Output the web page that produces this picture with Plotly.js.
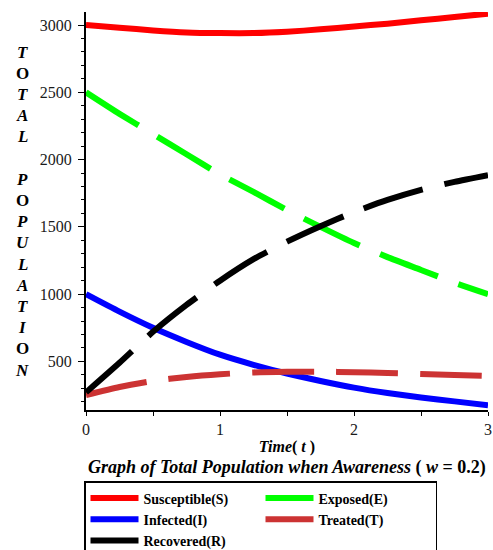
<!DOCTYPE html>
<html>
<head>
<meta charset="utf-8">
<script src="https://cdn.plot.ly/plotly-3.0.1.min.js"></script>
<style>html,body{margin:0;padding:0;background:#fff;overflow:hidden;}#wrap{width:493px;height:550px;overflow:hidden;}#chart{width:493px;height:580px;}</style>
</head>
<body>
<div id="wrap"><div id="chart"></div></div>
<script>
// ---- data ----
var t = [0, 0.25, 0.5, 0.75, 1, 1.25, 1.5, 1.75, 2, 2.25, 2.5, 2.75, 3];
var susceptible = [3000, 2980, 2960, 2945, 2940, 2940, 2950, 2968, 2990, 3010, 3035, 3060, 3085];
var exposed     = [2500, 2340, 2190, 2040, 1890, 1760, 1625, 1500, 1380, 1275, 1180, 1085, 1000];
var infected    = [1000, 870, 750, 645, 550, 475, 410, 355, 305, 265, 232, 203, 175];
var treated     = [250, 310, 355, 385, 405, 418, 423, 424, 420, 414, 407, 400, 393];
var recovered   = [270, 490, 720, 920, 1100, 1260, 1390, 1505, 1610, 1700, 1775, 1835, 1885];
var seriesNames = ["Susceptible(S)", "Exposed(E)", "Infected(I)", "Treated(T)", "Recovered(R)"];
var xTickVals = [0, 1, 2, 3];
var xTickText = ["0", "1", "2", "3"];
var yTickVals = [500, 1000, 1500, 2000, 2500, 3000];
var yTitleLetters = "TOTAL POPULATION".split("");

var serif = "Liberation Serif, Times New Roman, serif";
var W = 493, H = 580;
var M = {l: 86, r: 5, t: 12, b: H - 410};
var plotH = H - M.t - M.b, plotW = W - M.l - M.r;
function px2py(py) { return (H - M.b - py) / plotH; }
function px2px(px) { return (px - M.l) / plotW; }

function mk(name, y, color, dash) {
  return {
    x: t, y: y, name: name, type: "scatter", mode: "lines",
    line: {color: color, width: 6, dash: dash, shape: "spline", smoothing: 0.6},
    hoverinfo: "skip"
  };
}
var longDash = "62px,22px";
var data = [
  mk(seriesNames[0], susceptible, "#ff0000", "solid"),
  mk(seriesNames[1], exposed, "#00ff00", longDash),
  mk(seriesNames[2], infected, "#0000ff", "solid"),
  mk(seriesNames[3], treated, "#cc3333", longDash),
  mk(seriesNames[4], recovered, "#000000", longDash)
];

var annotations = [];
yTitleLetters.forEach(function (ch, i) {
  if (ch === " ") return;
  var txt = ch === "O" ? "<b>" + ch + "</b>" : "<b><i>" + ch + "</i></b>";
  annotations.push({
    xref: "paper", yref: "paper", x: px2px(22), y: px2py(52 + i * 21.2),
    xanchor: "center", yanchor: "middle", showarrow: false,
    text: txt, font: {family: serif, size: 17, color: "#000"}
  });
});
annotations.push({
  xref: "paper", yref: "paper", x: px2px(287), y: px2py(467),
  xanchor: "center", yanchor: "middle", showarrow: false,
  text: "<b><i>Graph of Total Population when Awareness</i> ( <i>w</i> = 0.2)</b>",
  font: {family: serif, size: 18, color: "#000"}
});

var layout = {
  width: W, height: H,
  margin: M,
  font: {family: serif, color: "#000"},
  paper_bgcolor: "#fff", plot_bgcolor: "#fff",
  showlegend: true,
  xaxis: {
    range: [0, 3], showgrid: false, zeroline: false,
    showline: true, linecolor: "#000", linewidth: 2,
    ticks: "outside", ticklen: 4, tickwidth: 1, tickcolor: "#000",
    tickvals: xTickVals, ticktext: xTickText,
    minor: {dtick: 0.5, tick0: 0, ticks: "outside", ticklen: 4, tickwidth: 1, tickcolor: "#000", showgrid: false},
    tickfont: {family: serif, size: 16, color: "#1a1a1a"},
    title: {text: "<b><i>Time</i>( <i>t</i> )</b>", font: {family: serif, size: 16, color: "#000"}, standoff: 4}
  },
  yaxis: {
    range: [139, 3097], showgrid: false, zeroline: false,
    showline: true, linecolor: "#000", linewidth: 2,
    ticks: "outside", ticklen: 6, tickwidth: 1, tickcolor: "#000",
    tickvals: yTickVals,
    minor: {dtick: 100, tick0: 0, ticks: "outside", ticklen: 3, tickwidth: 1, tickcolor: "#000", showgrid: false},
    tickfont: {family: serif, size: 16, color: "#1a1a1a"},
    ticklabelstandoff: 3
  },
  legend: {
    orientation: "h", xref: "container", yref: "container",
    x: 84 / W, xanchor: "left", y: 1 - 481 / H, yanchor: "top",
    entrywidth: 112, entrywidthmode: "pixels",
    bordercolor: "#000", borderwidth: 1.5, bgcolor: "#fff",
    font: {family: serif, size: 14, color: "#000", weight: "bold"},
    itemwidth: 48, tracegroupgap: 0
  },
  annotations: annotations
};

Plotly.newPlot("chart", data, layout, {staticPlot: true, displayModeBar: false});
</script>
</body>
</html>
